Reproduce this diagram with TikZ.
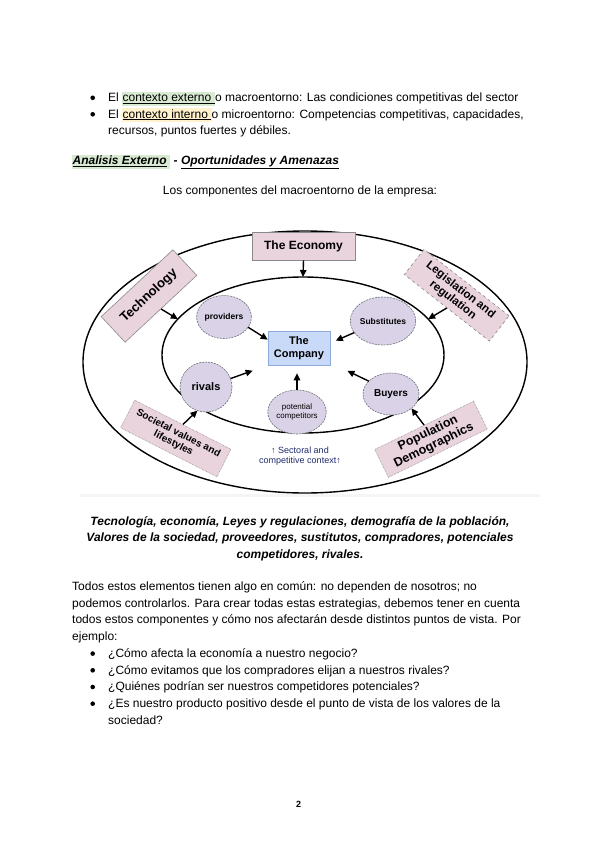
\documentclass[tikz,border=0pt]{standalone}
\usepackage{fontspec}
\setmainfont{Liberation Sans}
\usetikzlibrary{shapes.geometric,arrows.meta}
\definecolor{hlgreen}{HTML}{D9EAD3}
\definecolor{hlyellow}{HTML}{FFF2CC}
\definecolor{pinkbox}{HTML}{E9D3DC}
\definecolor{boxgray}{HTML}{8A8A8A}
\definecolor{lavender}{HTML}{DAD3E8}
\definecolor{lavborder}{HTML}{6E6E78}
\definecolor{compfill}{HTML}{C9DAF8}
\definecolor{compborder}{HTML}{8EA9DB}
\definecolor{navytext}{HTML}{1F2A6E}
\newcommand{\hlg}[1]{{\setlength{\fboxsep}{0.4pt}\colorbox{hlgreen}{\strut\underline{#1}}}}
\newcommand{\hly}[1]{{\setlength{\fboxsep}{0.4pt}\colorbox{hlyellow}{\strut\underline{#1}}}}
\begin{document}
\begin{tikzpicture}[x=1pt,y=-1pt,
  txt/.style={anchor=base west, inner sep=0pt, font=\fontsize{12}{13.5}\selectfont},
  ctxt/.style={anchor=base, inner sep=0pt, font=\fontsize{12}{13.5}\selectfont},
  bitxt/.style={anchor=base, inner sep=0pt, font=\fontsize{12}{13.5}\bfseries\itshape\selectfont},
  pbox/.style={draw=boxgray, fill=pinkbox, line width=0.6pt, inner sep=1pt, align=center},
  lav/.style={ellipse, draw=lavborder, dash pattern=on 2pt off 1pt, line width=0.6pt, fill=lavender, inner sep=0pt, outer sep=0pt, align=center},
  arr/.style={-{Triangle[length=7pt,width=6.5pt]}, line width=1.4pt},
  bigline/.style={line width=1.4pt}
]
\useasboundingbox[fill=white] (0,0) rectangle (600,848);

% ---------- top bullets ----------
\fill (92.7,97.8) circle (2.3pt);
\node[txt] (l1) at (108,101.5) {El \hlg{contexto externo\ }o macroentorno: Las condiciones competitivas del sector};
\fill (92.7,114.3) circle (2.3pt);
\node[txt] (l2) at (108,118) {El \hly{contexto interno\ }o microentorno: Competencias competitivas, capacidades,};
\node[txt] (l3) at (108,134.5) {recursos, puntos fuertes y débiles.};

% ---------- heading ----------
\node[txt] (head) at (72,164.5) {{\setlength{\fboxsep}{0.4pt}\colorbox{hlgreen}{\strut\underline{\textbf{\textit{Analisis Externo}}}\ }}\textbf{ - }\underline{\textbf{\textit{Oportunidades y Amenazas}}}};
\node[ctxt] (intro) at (300,194.5) {Los componentes del macroentorno de la empresa:};

% ---------- diagram ----------
\fill[black!4] (80,494) rectangle (540,497);
\draw[bigline] (305,362) ellipse [x radius=222pt, y radius=131pt];
\node[ellipse, draw, bigline, minimum width=282, minimum height=156, inner sep=0pt, outer sep=0pt] (inner) at (303,355) {};

\node[pbox, minimum width=103, minimum height=28, font=\fontsize{12}{14}\bfseries\selectfont] (econ) at (303.5,246) {The Economy};
\node[pbox, rotate=43, minimum width=98, minimum height=35, font=\fontsize{13}{14}\bfseries\selectfont] (tech) at (149,296) {Technology};
\node[pbox, dashed, rotate=-38, minimum width=108, minimum height=32, font=\fontsize{11.5}{12.5}\bfseries\selectfont] (leg) at (456.7,295.2) {Legislation and\\regulation};
\node[pbox, densely dotted, rotate=-27, minimum width=108, minimum height=31, font=\fontsize{10}{11}\bfseries\selectfont] (soc) at (175.8,438.5) {Societal values and\\lifestyles};
\node[pbox, densely dotted, rotate=26, minimum width=110, minimum height=31, font=\fontsize{12.5}{13.5}\bfseries\selectfont] (pop) at (431,439.3) {Population\\Demographics};

\node[lav, minimum width=52, minimum height=43, font=\fontsize{8.5}{10}\bfseries\selectfont] (prov) at (224,317) {providers};
\node[lav, minimum width=58, minimum height=48, font=\fontsize{8.5}{10}\bfseries\selectfont] (subs) at (383,321) {Substitutes};
\node[lav, minimum width=52, minimum height=50, font=\fontsize{11}{12}\bfseries\selectfont] (riv) at (206,387) {rivals};
\node[lav, minimum width=54, minimum height=44, font=\fontsize{8}{9.5}\selectfont] (pot) at (297,412) {potential\\competitors};
\node[lav, minimum width=56, minimum height=42, font=\fontsize{10}{11}\bfseries\selectfont] (buy) at (391,394) {Buyers};

\node[draw=compborder, fill=compfill, line width=0.6pt, minimum width=62, minimum height=34, inner sep=1pt, align=center, font=\fontsize{11}{12.5}\bfseries\selectfont] (comp) at (299,348) {The\\Company};

\node[inner sep=0pt, align=center, text=navytext, font=\fontsize{9}{10.5}\selectfont] (sect) at (300,456) {{\bfseries↑} Sectoral and\\competitive context{\bfseries↑}};

\draw[arr] (econ.south) -- (inner.north);
\draw[arr] (tech.south) -- (inner.164);
\draw[arr] (leg.south) -- (inner.16);
\draw[arr] (soc.north) -- (riv.-110);
\draw[arr] (pop.north) -- (buy.-35);
\draw[arr] (prov.-23) -- (comp.165);
\draw[arr, shorten >=6pt] (subs.202) -- (comp.9);
\draw[arr, shorten >=16pt] (riv.19) -- (comp.south west);
\draw[arr, shorten >=8pt] (pot.north) -- (pot.north |- comp.south);
\draw[arr, shorten >=19pt] (buy.150) -- (comp.-25);

% ---------- bold italic summary ----------
\node[bitxt] (s1) at (300,525) {Tecnología, economía, Leyes y regulaciones, demografía de la población,};
\node[bitxt] (s2) at (300,541.7) {Valores de la sociedad, proveedores, sustitutos, compradores, potenciales};
\node[bitxt] (s3) at (300,558.4) {competidores, rivales.};

% ---------- paragraph ----------
\node[txt] (p1) at (72,590.5) {Todos estos elementos tienen algo en común: no dependen de nosotros; no};
\node[txt] (p2) at (72,607.2) {podemos controlarlos. Para crear todas estas estrategias, debemos tener en cuenta};
\node[txt] (p3) at (72,623.9) {todos estos componentes y cómo nos afectarán desde distintos puntos de vista. Por};
\node[txt] (p4) at (72,640.6) {ejemplo:};

\fill (92.7,653.6) circle (2.3pt);
\node[txt] (b1) at (108,657.3) {¿Cómo afecta la economía a nuestro negocio?};
\fill (92.7,670.3) circle (2.3pt);
\node[txt] (b2) at (108,674) {¿Cómo evitamos que los compradores elijan a nuestros rivales?};
\fill (92.7,687) circle (2.3pt);
\node[txt] (b3) at (108,690.7) {¿Quiénes podrían ser nuestros competidores potenciales?};
\fill (92.7,703.7) circle (2.3pt);
\node[txt] (b4) at (108,707.4) {¿Es nuestro producto positivo desde el punto de vista de los valores de la};
\node[txt] (b5) at (108,724.1) {sociedad?};

\node[anchor=base, inner sep=0pt, font=\fontsize{9}{11}\bfseries\selectfont] (pg) at (298.5,807) {2};
\end{tikzpicture}
\end{document}
